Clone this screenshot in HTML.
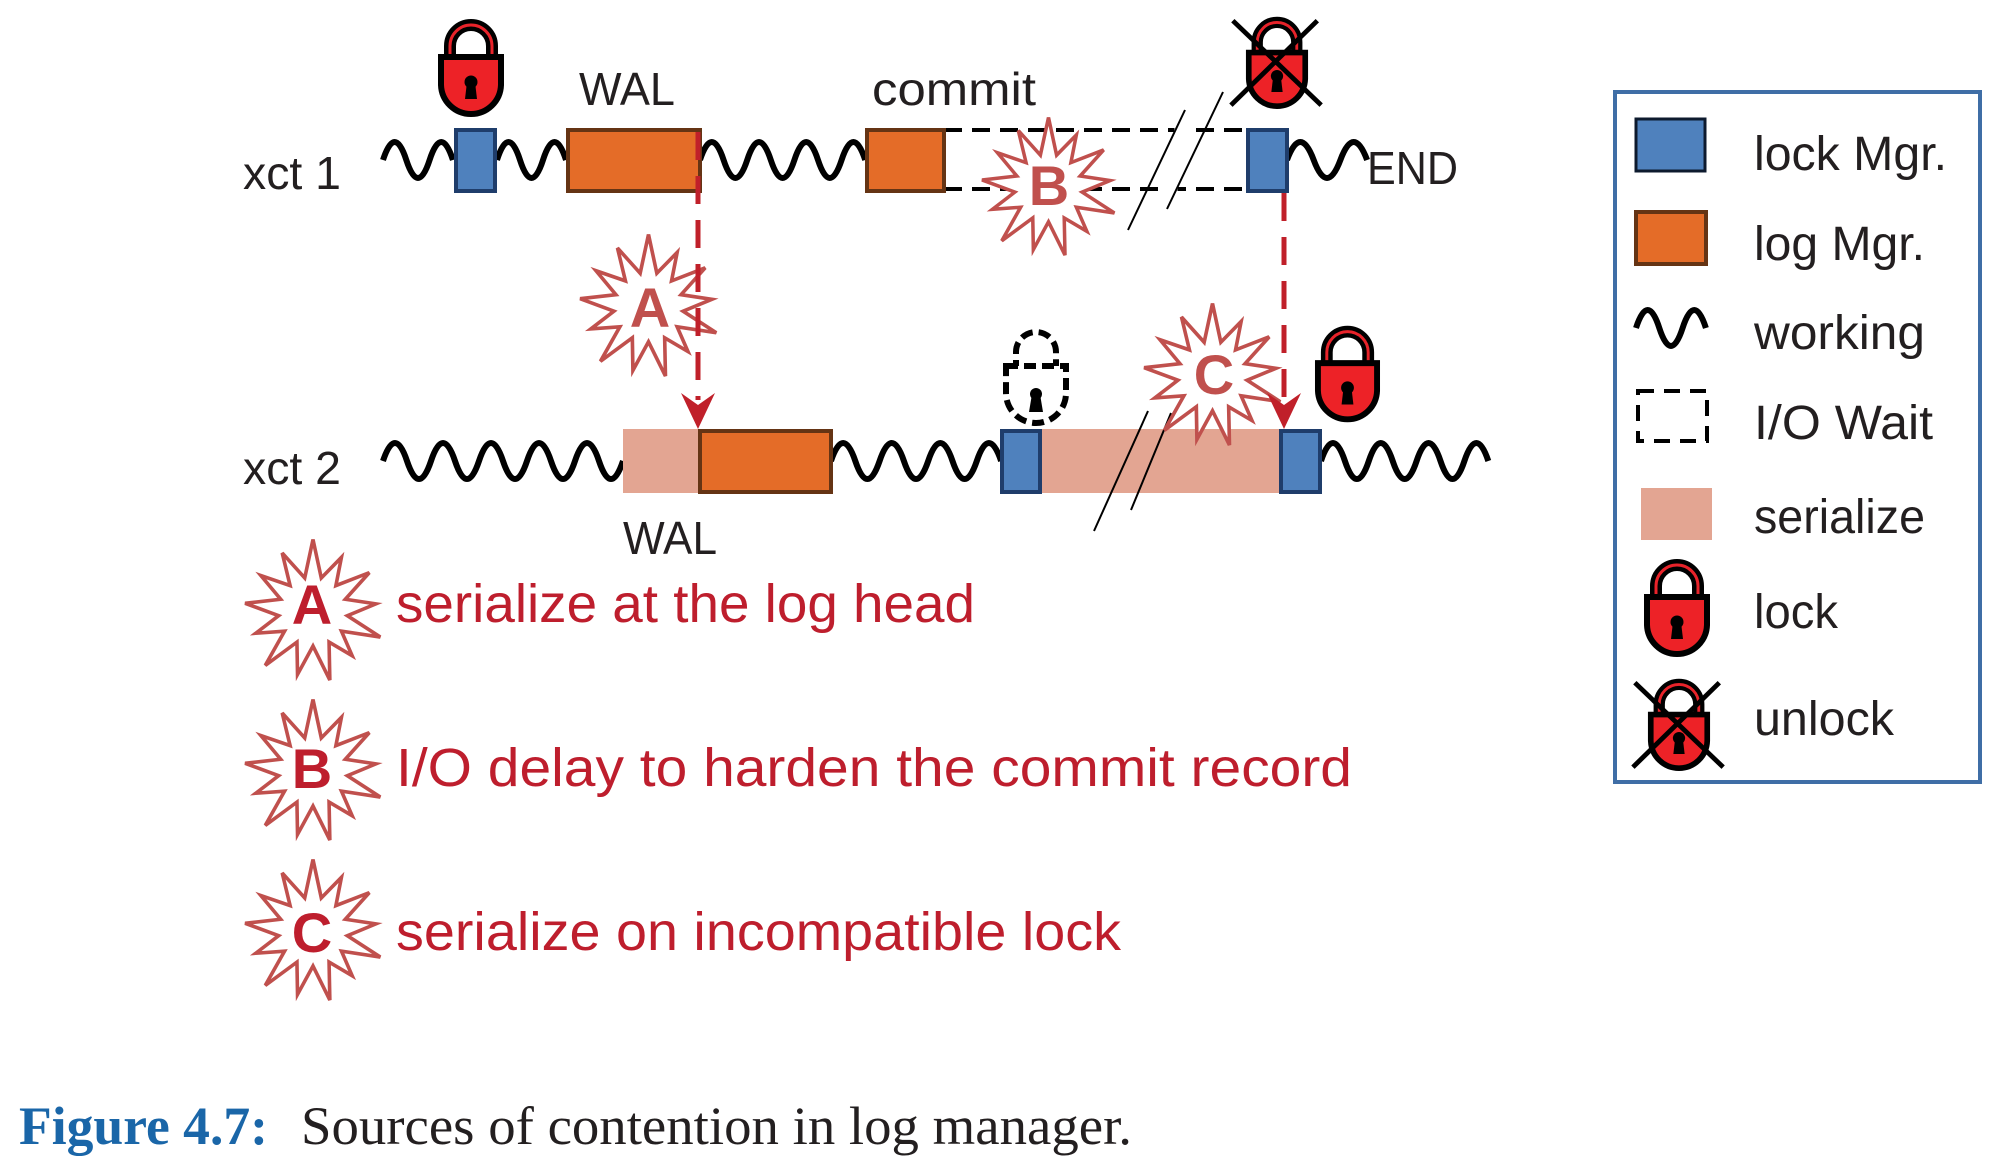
<!DOCTYPE html>
<html><head><meta charset="utf-8"><style>
html,body{margin:0;padding:0;background:#fff;}
svg{display:block;}
text{font-family:"Liberation Sans",sans-serif;}
</style></head><body>
<svg width="2000" height="1172" viewBox="0 0 2000 1172" xmlns="http://www.w3.org/2000/svg">
<defs>
<g id="lockg">
  <path d="M13 46 V31 a21 21 0 0 1 42 0 V46" fill="none" stroke="#000" stroke-width="12"/>
  <path d="M13 46 V31 a21 21 0 0 1 42 0 V46" fill="none" stroke="#e8232a" stroke-width="3"/>
  <path d="M4 42 H64 V70 a30 30 0 0 1 -30 29 a30 30 0 0 1 -30 -29 Z" fill="#ed2227" stroke="#000" stroke-width="6"/>
  <circle cx="34" cy="67" r="6.5" fill="#000"/>
  <polygon points="30,67 38,67 40,84 28,84" fill="#000"/>
</g>
<symbol id="lock" viewBox="0 0 68 102"><use href="#lockg"/></symbol>
<symbol id="unlock" viewBox="0 0 100 100">
  <svg x="16" y="0" width="68" height="100" viewBox="0 0 68 102"><use href="#lockg"/></svg>
  <line x1="4" y1="8" x2="96" y2="96" stroke="#000" stroke-width="5"/>
  <line x1="92" y1="8" x2="2" y2="96" stroke="#000" stroke-width="5"/>
</symbol>
<symbol id="star" viewBox="-100 -100 200 200">
  <polygon points="0,-100 11.5,-46.6 39.5,-75.2 31.8,-36 78.2,-54 44.9,-17 87.4,-10.6 47.7,5.8 93.5,35.5 39.5,27.3 54.4,61.4 22.3,42.5 23.4,95.2 0,48 -21.5,87.4 -22.3,42.5 -66.3,74.9 -39.5,27.3 -79.5,30.2 -47.7,5.8 -94.3,-11.4 -44.9,-17 -72.4,-50 -31.8,-36 -42.8,-81.4 -11.5,-46.6" fill="#fff" stroke="#c0504d" stroke-width="5" stroke-linejoin="miter"/>
</symbol>
</defs>

<!-- xct1 labels -->
<text x="243" y="189" font-size="46" fill="#231f20" textLength="98" lengthAdjust="spacingAndGlyphs">xct 1</text>
<text x="579" y="105" font-size="46" fill="#231f20" textLength="96" lengthAdjust="spacingAndGlyphs">WAL</text>
<text x="872" y="105" font-size="46" fill="#231f20" textLength="164" lengthAdjust="spacingAndGlyphs">commit</text>
<text x="1367" y="184" font-size="46" fill="#231f20" textLength="91" lengthAdjust="spacingAndGlyphs">END</text>

<!-- xct1 waves -->
<g fill="none" stroke="#000" stroke-width="6">
<path d="M383 160 q11.7 -36 23.3 0 q11.7 36 23.3 0 q11.7 -36 23.3 0"/>
<path d="M497 160 q11.5 -36 23 0 q11.5 36 23 0 q11.5 -36 23 0"/>
<path d="M700 160 q11.8 -36 23.6 0 q11.8 36 23.6 0 q11.8 -36 23.6 0 q11.8 36 23.6 0 q11.8 -36 23.6 0 q11.8 36 23.6 0 q11.8 -36 23.6 0"/>
<path d="M1287 160 q13.3 -36 26.7 0 q13.3 36 26.7 0 q13.3 -36 26.7 0"/>
</g>
<!-- I/O wait dashes -->
<g stroke="#000" stroke-width="4" stroke-dasharray="18,10">
<line x1="944" y1="130" x2="1246" y2="130"/>
<line x1="944" y1="189" x2="1246" y2="189"/>
</g>
<g stroke="#fff" stroke-width="14">
<line x1="1185" y1="110" x2="1167" y2="209"/>
</g>
<g stroke="#000" stroke-width="2">
<line x1="1185" y1="110" x2="1128" y2="230"/>
<line x1="1223" y1="92" x2="1167" y2="209"/>
</g>
<!-- xct1 boxes -->
<rect x="456" y="130" width="39" height="61" fill="#4f81bd" stroke="#1f3d6b" stroke-width="4"/>
<rect x="568" y="130" width="132" height="61" fill="#e46c28" stroke="#653414" stroke-width="4"/>
<rect x="867" y="130" width="77" height="61" fill="#e46c28" stroke="#653414" stroke-width="4"/>
<rect x="1248" y="130" width="39" height="61" fill="#4f81bd" stroke="#1f3d6b" stroke-width="4"/>
<use href="#lock" x="437" y="15" width="68" height="102"/>
<use href="#unlock" x="1229" y="11" width="96" height="100"/>

<!-- xct2 -->
<text x="243" y="484" font-size="46" fill="#231f20" textLength="98" lengthAdjust="spacingAndGlyphs">xct 2</text>
<text x="623" y="554" font-size="46" fill="#231f20" textLength="94" lengthAdjust="spacingAndGlyphs">WAL</text>
<g fill="none" stroke="#000" stroke-width="6">
<path d="M383 461 q12 -36 24 0 q12 36 24 0 q12 -36 24 0 q12 36 24 0 q12 -36 24 0 q12 36 24 0 q12 -36 24 0 q12 36 24 0 q12 -36 24 0 q12 36 24 0"/>
<path d="M831 461 q12.1 -36 24.3 0 q12.1 36 24.3 0 q12.1 -36 24.3 0 q12.1 36 24.3 0 q12.1 -36 24.3 0 q12.1 36 24.3 0 q12.1 -36 24.3 0"/>
<path d="M1321 461 q12 -36 23.9 0 q12 36 23.9 0 q12 -36 23.9 0 q12 36 23.9 0 q12 -36 23.9 0 q12 36 23.9 0 q12 -36 23.9 0"/>
</g>
<rect x="623" y="429" width="75" height="64" fill="#e3a592"/>
<rect x="700" y="431" width="131" height="61" fill="#e46c28" stroke="#653414" stroke-width="4"/>
<rect x="1040" y="429" width="240" height="64" fill="#e3a592"/>
<rect x="1002" y="431" width="38" height="61" fill="#4f81bd" stroke="#1f3d6b" stroke-width="4"/>
<rect x="1281" y="431" width="39" height="61" fill="#4f81bd" stroke="#1f3d6b" stroke-width="4"/>
<line x1="1148" y1="411" x2="1094" y2="531" stroke="#000" stroke-width="2"/>
<line x1="1171" y1="413" x2="1131" y2="510" stroke="#000" stroke-width="2"/>
<!-- dashed lock -->
<g fill="#fff" stroke="#000" stroke-width="6" stroke-dasharray="12,6">
<path d="M1016 372 V352 a20 20 0 0 1 40 0 V372"/>
<path d="M1006 366 H1066 V394 a30 30 0 0 1 -30 29 a30 30 0 0 1 -30 -29 Z"/>
</g>
<circle cx="1036" cy="394" r="6" fill="#000"/>
<polygon points="1032,394 1040,394 1043,412 1029,412" fill="#000"/>
<use href="#lock" x="1314" y="321" width="67" height="102"/>

<!-- diagram stars -->
<use href="#star" x="576" y="225" width="145" height="164" preserveAspectRatio="none"/>
<use href="#star" x="978" y="109" width="141" height="158" preserveAspectRatio="none"/>
<use href="#star" x="1140" y="295" width="145" height="162" preserveAspectRatio="none"/>
<g font-weight="bold" fill="#c0504d" font-size="56" text-anchor="middle">
<text x="650" y="327">A</text>
<text x="1049" y="205">B</text>
<text x="1214" y="394">C</text>
</g>
<!-- red dashed arrows -->
<g stroke="#c0202a" stroke-width="5" stroke-dasharray="28,16">
<line x1="698" y1="132" x2="698" y2="400"/>
<line x1="1284" y1="193" x2="1284" y2="400"/>
</g>
<polygon points="681,393 698,429 715,393 698,405" fill="#c0202a"/>
<polygon points="1267,393 1284,429 1301,393 1284,405" fill="#c0202a"/>

<!-- lower legend -->
<use href="#star" x="241" y="530" width="144" height="163" preserveAspectRatio="none"/>
<use href="#star" x="241" y="690" width="144" height="163" preserveAspectRatio="none"/>
<use href="#star" x="241" y="850" width="144" height="163" preserveAspectRatio="none"/>
<g font-weight="bold" fill="#be1e2d" font-size="56" text-anchor="middle">
<text x="312" y="624">A</text>
<text x="312" y="788">B</text>
<text x="312" y="952">C</text>
</g>
<g fill="#be1e2d" font-size="54">
<text x="396" y="622" textLength="579" lengthAdjust="spacingAndGlyphs">serialize at the log head</text>
<text x="396" y="786" textLength="956" lengthAdjust="spacingAndGlyphs">I/O delay to harden the commit record</text>
<text x="396" y="950" textLength="725" lengthAdjust="spacingAndGlyphs">serialize on incompatible lock</text>
</g>

<!-- legend box -->
<rect x="1615" y="92" width="365" height="690" fill="#fff" stroke="#3f6ea6" stroke-width="4"/>
<rect x="1636" y="119" width="69" height="52" fill="#4f81bd" stroke="#0d1a2e" stroke-width="3"/>
<rect x="1636" y="212" width="70" height="52" fill="#e46c28" stroke="#653414" stroke-width="4"/>
<path d="M1636 328 q11.7 -36 23.3 0 q11.7 36 23.3 0 q11.7 -36 23.3 0" fill="none" stroke="#000" stroke-width="6"/>
<rect x="1638" y="391" width="69" height="50" fill="none" stroke="#000" stroke-width="4" stroke-dasharray="16,10"/>
<rect x="1641" y="488" width="71" height="52" fill="#e3a592"/>
<use href="#lock" x="1643" y="555" width="68" height="102"/>
<use href="#unlock" x="1627" y="675" width="104" height="96"/>
<g fill="#231f20" font-size="48">
<text x="1754" y="170" textLength="193" lengthAdjust="spacingAndGlyphs">lock Mgr.</text>
<text x="1754" y="260" textLength="171" lengthAdjust="spacingAndGlyphs">log Mgr.</text>
<text x="1754" y="349" textLength="171" lengthAdjust="spacingAndGlyphs">working</text>
<text x="1754" y="439" textLength="179" lengthAdjust="spacingAndGlyphs">I/O Wait</text>
<text x="1754" y="533" textLength="171" lengthAdjust="spacingAndGlyphs">serialize</text>
<text x="1754" y="628" textLength="84" lengthAdjust="spacingAndGlyphs">lock</text>
<text x="1754" y="735" textLength="140" lengthAdjust="spacingAndGlyphs">unlock</text>
</g>

<!-- caption -->
<text x="19" y="1144" font-size="54" font-weight="bold" fill="#1a66a8" textLength="249" lengthAdjust="spacingAndGlyphs" style="font-family:'Liberation Serif',serif">Figure 4.7:</text>
<text x="301" y="1144" font-size="54" fill="#231f20" textLength="831" lengthAdjust="spacingAndGlyphs" style="font-family:'Liberation Serif',serif">Sources of contention in log manager.</text>
</svg>
</body></html>
